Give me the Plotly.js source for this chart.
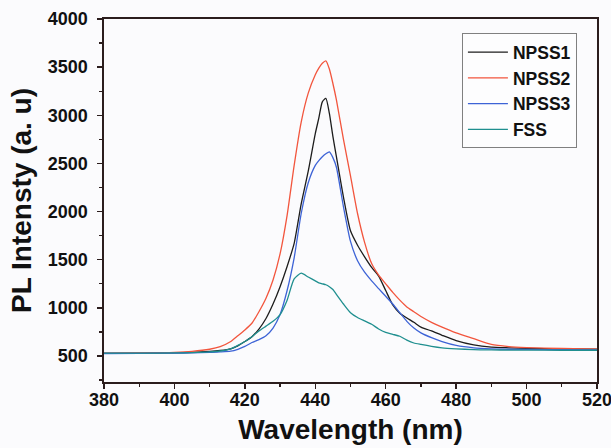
<!DOCTYPE html>
<html>
<head>
<meta charset="utf-8">
<script src="https://cdn.plot.ly/plotly-3.0.1.min.js"></script>
<style>html,body{margin:0;padding:0;background:#fbfbfd;}#chart{width:611px;height:448px;}</style>
</head>
<body>
<div id="chart"></div>
<script>
const wavelength = [380,390,400,405,410,413,416,418,420,422,424,426,428,430,432,434,436,438,440,441,442,443,444,445,446,448,450,452,454,456,458,460,462,464,466,468,470,473,476,480,485,490,495,500,510,520];
const npss1 = [528,530,533,538,548,558,575,605,650,700,780,890,1040,1220,1430,1670,2080,2420,2810,2970,3140,3175,3020,2780,2570,2150,1800,1650,1530,1420,1330,1180,1030,945,895,850,800,760,715,660,615,592,585,580,575,572];
const npss2 = [530,532,538,548,570,597,650,710,770,840,960,1100,1290,1560,1960,2480,2930,3230,3420,3490,3540,3565,3480,3330,3160,2750,2370,1980,1680,1460,1340,1250,1160,1080,1010,960,910,850,800,740,680,620,598,588,578,572];
const npss3 = [526,528,530,533,538,542,550,570,600,640,670,710,790,930,1180,1520,1980,2300,2480,2530,2570,2600,2620,2560,2460,2050,1690,1490,1370,1280,1200,1120,1040,950,860,790,740,690,650,610,585,575,570,568,565,563];
const fss   = [530,530,532,535,542,552,575,610,650,700,760,810,860,930,1080,1300,1360,1320,1280,1260,1250,1240,1220,1190,1140,1040,950,900,865,830,780,745,725,705,665,635,620,600,585,575,566,563,562,561,560,560];
const seriesNames = ["NPSS1","NPSS2","NPSS3","FSS"];
const seriesColors = ["#1c1c1c","#f2553d","#3d63d6","#1f8f8f"];
const seriesValues = [npss1,npss2,npss3,fss];
const xTicks = [380,400,420,440,460,480,500,520];
const yTicks = [500,1000,1500,2000,2500,3000,3500,4000];

const traces = seriesValues.map((v,i)=>({
  x: wavelength, y: v, name: seriesNames[i], type:'scatter', mode:'lines',
  line:{color:seriesColors[i], width:1.3, shape:'spline', smoothing:0.6}
}));

const fontFam = 'Liberation Sans, Arial, sans-serif';
const axisCommon = {
  showgrid:false, zeroline:false, showline:true, mirror:true,
  linecolor:'#2b1d1d', linewidth:1.6,
  ticks:'outside', ticklen:5, tickwidth:1.4, tickcolor:'#2b1d1d',
  tickfont:{family:fontFam, size:18, color:'#111', weight:'bold'}
};

const layout = {
  width:611, height:448,
  margin:{l:104, r:14, t:19, b:66},
  paper_bgcolor:'#fbfbfd', plot_bgcolor:'#fbfbfd',
  showlegend:true,
  legend:{x:0.726, y:0.961, xanchor:'left', yanchor:'top',
    bordercolor:'#808080', borderwidth:1, bgcolor:'#fdfdfe',
    font:{family:fontFam, size:17.5, color:'#111', weight:'bold'},
    itemwidth:40, tracegroupgap:0},
  xaxis: Object.assign({}, axisCommon, {
    range:[380,520], tickvals:xTicks, ticklabeloverflow:'allow', ticklabelstandoff:-4,
    minor:{dtick:10, ticklen:3, ticks:'outside', tickcolor:'#2b1d1d'},
    title:{text:'Wavelength (nm)', standoff:10,
      font:{family:fontFam, size:28, color:'#111', weight:'bold'}}
  }),
  yaxis: Object.assign({}, axisCommon, {
    range:[230,4000], tickvals:yTicks, ticklabelstandoff:6,
    minor:{dtick:250, ticklen:3, ticks:'outside', tickcolor:'#2b1d1d'},
    title:{text:'PL Intensty (a. u)', standoff:8,
      font:{family:fontFam, size:28, color:'#111', weight:'bold'}}
  })
};

Plotly.newPlot('chart', traces, layout, {displayModeBar:false, staticPlot:true});
</script>
</body>
</html>
